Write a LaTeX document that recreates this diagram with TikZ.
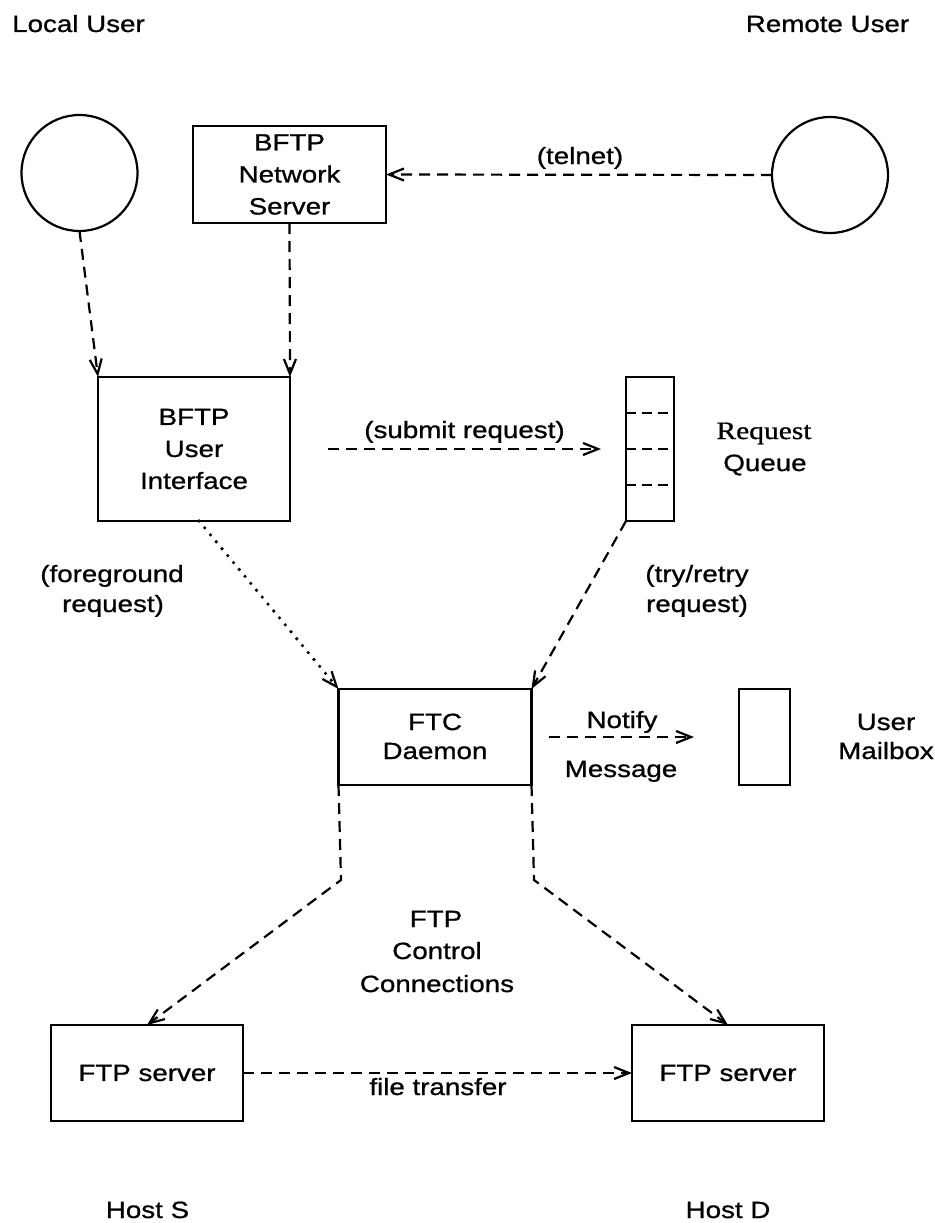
\documentclass[tikz,border=0pt]{standalone}
\usepackage{fontspec}
\setmainfont[FakeStretch=1.18,FakeBold=0.9]{Liberation Sans}
\newfontfamily\qserif[FakeStretch=1.18,FakeBold=0.9]{Liberation Serif}
\usetikzlibrary{arrows.meta}
\begin{document}
\begin{tikzpicture}[x=1pt,y=-1pt,
  every node/.style={font=\fontsize{23.5}{32}\selectfont, inner sep=0pt, outer sep=0pt},
  box/.style={draw, line width=2.2pt, align=center},
  user/.style={draw, circle, line width=2.2pt, minimum size=116pt},
  lbl/.style={anchor=base},
  tip/.style={-{Straight Barb[length=15pt,width=12pt,line width=2.2pt]}},
  flow/.style={tip, line width=2.2pt, dash pattern=on 11pt off 7pt},
  dots/.style={tip, line width=3.6pt, line cap=round, dash pattern=on 0pt off 9pt},
  slot/.style={line width=2.2pt, dash pattern=on 10pt off 6pt}]
\useasboundingbox (0,0) rectangle (934,1223);

% users and boxes
\node[user] (lc) at (79.5,173) {};
\node[user] (rc) at (830,175) {};
\node[box, minimum width=193pt, minimum height=97pt] (net) at (289.5,174.5) {BFTP\\Network\\Server};
\node[box, minimum width=192pt, minimum height=144pt] (ui) at (194,449) {BFTP\\User\\Interface};
\node[box, minimum width=48pt, minimum height=144pt] (queue) at (650,449) {};
\node[box, minimum width=193pt, minimum height=96pt] (ftc) at (435,737) {};
\node[box, minimum width=51pt, minimum height=96pt] (mail) at (764.5,737) {};
\node[box, minimum width=192pt, minimum height=96pt] (ftpS) at (147,1073) {FTP server};
\node[box, minimum width=192pt, minimum height=96pt] (ftpD) at (728,1073) {FTP server};

% queue slots
\draw[slot] (queue.west |- 0,413) -- (queue.east |- 0,413);
\draw[slot] (queue.west) -- (queue.east);
\draw[slot] (queue.west |- 0,485) -- (queue.east |- 0,485);

% texts
\node[lbl] (lu) at (78.5,32) {Local User};
\node[lbl] (ru) at (827.5,32) {Remote User};
\node[lbl] (tel) at (580,164) {(telnet)};
\node[lbl] (sub) at (464.5,438) {(submit request)};
\node[lbl, font=\qserif\fontsize{25}{32}\selectfont] (rq1) at (764,439) {Request};
\node[lbl] (rq2) at (765,471) {Queue};
\node[lbl] (fg1) at (112,582) {(foreground};
\node[lbl] (fg2) at (113,612) {request)};
\node[lbl] (tr1) at (697,582) {(try/retry};
\node[lbl] (tr2) at (697,612) {request)};
\node[lbl] (ftc1) at (435,730) {FTC};
\node[lbl] (ftc2) at (435,759) {Daemon};
\node[lbl] (nt1) at (622,728) {Notify};
\node[lbl] (nt2) at (621,777) {Message};
\node[lbl] (mb1) at (886,730) {User};
\node[lbl] (mb2) at (886,759) {Mailbox};
\node[lbl] (cc1) at (436,927) {FTP};
\node[lbl] (cc2) at (437,959) {Control};
\node[lbl] (cc3) at (437,992) {Connections};
\node[lbl] (ft) at (438,1095) {file transfer};
\node[lbl] (hs) at (147.5,1218) {Host S};
\node[lbl] (hd) at (728,1218) {Host D};

% connectors
\coordinate (bl) at (341,880);
\coordinate (br) at (534,880);
\draw[flow] (rc.west) -- (net.east);
\draw[flow] (lc.south) -- (ui.north west);
\draw[flow] (net.south) -- (ui.north east);
\draw[flow, shorten <=38pt, shorten >=25pt] (ui.east) -- (queue.west);
\draw[dots] ([xshift=5pt]ui.south) -- (ftc.north west);
\draw[flow] (queue.south west) -- (ftc.north east);
\draw[flow, shorten <=17pt, shorten >=45pt] (ftc.east) -- (mail.west);
\draw[flow] (ftc.south west) -- (bl) -- (ftpS.north);
\draw[flow] (ftc.south east) -- (br) -- (ftpD.north);
\draw[flow] (ftpS.east) -- (ftpD.west);
\end{tikzpicture}
\end{document}
